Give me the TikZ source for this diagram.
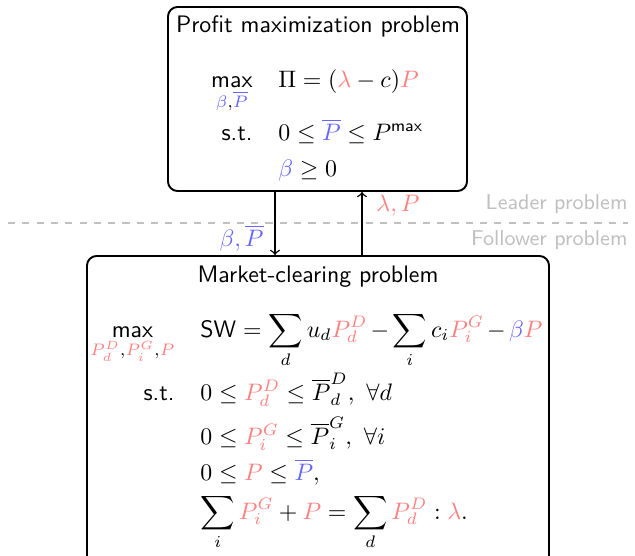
\documentclass[tikz,border=0pt]{standalone}
\usetikzlibrary{fit}
\definecolor{varred}{RGB}{255,128,128}
\definecolor{varblue}{RGB}{102,102,255}
\definecolor{lightline}{RGB}{192,192,192}
\tikzset{
  probbox/.style={draw, line width=0.8pt, rounded corners=4pt, inner sep=0pt},
  boxtitle/.style={font=\sffamily, anchor=base, inner sep=0pt},
  lcol/.style={anchor=base east, inner sep=0pt},
  rcol/.style={anchor=base west, inner sep=0pt},
  flow/.style={->, line width=0.6pt},
  levellabel/.style={font=\small\sffamily, text=lightline, anchor=east, inner sep=0pt},
  sep/.style={dashed, draw=lightline, line width=0.6pt}
}
\newcommand{\rd}[1]{{\color{varred}#1}}
\newcommand{\bl}[1]{{\color{varblue}#1}}
\newcommand{\smax}{\mathop{\textsf{max}}}
\begin{document}
\begin{tikzpicture}[x=0.4195pt,y=-0.4195pt]
\useasboundingbox (0,0) rectangle (635,555);
\clip (0,0) rectangle (635,555);
% boxes
\node[probbox, fit={(168,7)(467,191)}] (top) {};
\node[probbox, fit={(87,256)(549,600)}] (bot) {};
% top box content
\node[boxtitle] (toptitle) at (318,32) {Profit maximization problem};
\node[lcol] (tmax) at (253,87) {$\displaystyle\smax_{\bl{\beta},\bl{\overline{P}}}$};
\node[rcol] (tobj) at (278,87) {$\Pi=(\rd{\lambda}-c)\rd{P}$};
\node[lcol] (tst) at (253,140) {\sffamily s.t.};
\node[rcol] (tc1) at (278,140) {$0\le\bl{\overline{P}}\le P^{\mathsf{max}}$};
\node[rcol] (tc2) at (278,176) {$\bl{\beta}\ge 0$};
% bottom box content
\node[boxtitle] (bottitle) at (318,282) {Market-clearing problem};
\node[lcol] (bmax) at (175,337) {$\displaystyle\smax_{\rd{P_d^D},\rd{P_i^G},\rd{P}}$};
\node[rcol] (bobj) at (200,337) {\medmuskip=2.5mu $\displaystyle \mathsf{SW}=\sum_d u_d\rd{P_d^D}-\sum_i c_i\rd{P_i^G}-\bl{\beta}\rd{P}$};
\node[lcol] (bst) at (175,400) {\sffamily s.t.};
\node[rcol] (bc1) at (200,400) {$0\le\rd{P_d^D}\le\overline{P}_d^D,\ \forall d$};
\node[rcol] (bc2) at (200,444) {$0\le\rd{P_i^G}\le\overline{P}_i^G,\ \forall i$};
\node[rcol] (bc3) at (200,480) {$0\le\rd{P}\le\bl{\overline{P}},$};
\node[rcol] (bc4) at (200,519) {$\displaystyle\sum_i\rd{P_i^G}+\rd{P}=\sum_d\rd{P_d^D}:\rd{\lambda}.$};
% separator
\coordinate (sepL) at (8,223);
\coordinate (sepR) at (628,223);
\draw[sep] (sepL) -- (sepR);
\node[levellabel] (leader) at (628,204) {Leader problem};
\node[levellabel] (follower) at (628,240) {Follower problem};
% arrows
\coordinate (downx) at (275,0);
\coordinate (upx) at (362,0);
\draw[flow] (top.south -| downx) -- (bot.north -| downx);
\draw[flow] (bot.north -| upx) -- (top.south -| upx);
\node[anchor=east, inner sep=0pt, text=varblue] (downlab) at (264,238) {$\beta,\overline{P}$};
\node[anchor=west, inner sep=0pt, text=varred] (uplab) at (376,206) {$\lambda,P$};
\end{tikzpicture}
\end{document}
